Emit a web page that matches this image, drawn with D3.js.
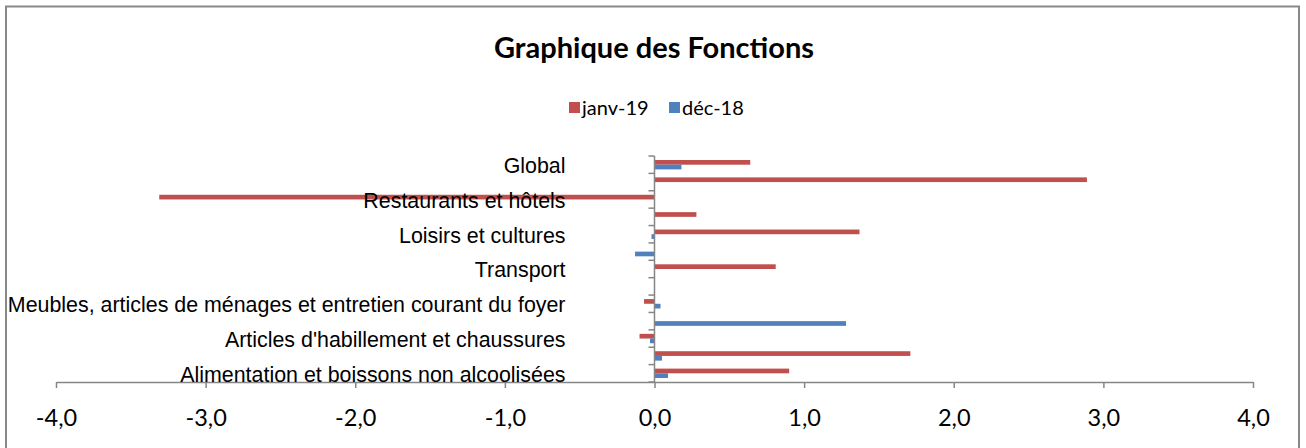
<!DOCTYPE html>
<html>
<head>
<meta charset="utf-8">
<script src="https://cdn.jsdelivr.net/npm/d3@7"></script>
<style>
	body { margin: 0; background: #fff; }
	svg { display: block; }
	.cat-axis text { font-family: "Liberation Sans", Arial, sans-serif; font-size: 21.4px; fill: #000; }
	.x-axis text { font-family: Lato, "Open Sans", sans-serif; font-size: 23.5px; fill: #000; }
</style>
</head>
<body>
<div id="chart"></div>
<script>
// categories, bottom to top (Excel order)
const categories = [
	"Alimentation et boissons non alcoolisées",
	"Boissons alcoolisées et tabac",
	"Articles d'habillement et chaussures",
	"Logement, eau, gaz, électricité et autres combustibles",
	"Meubles, articles de ménages et entretien courant du foyer",
	"Santé",
	"Transport",
	"Communication",
	"Loisirs et cultures",
	"Enseignement",
	"Restaurants et hôtels",
	"Biens et services divers",
	"Global"
];
const seriesNames = ["janv-19", "déc-18"];
const janv19 = [0.90, 1.71, -0.10, 0.00, -0.07, 0.00, 0.81, 0.00, 1.37, 0.28, -3.31, 2.89, 0.64];
const dec18 = [0.09, 0.05, -0.03, 1.28, 0.04, 0.00, 0.00, -0.13, -0.02, 0.00, 0.00, 0.00, 0.18];
const xTicks = [-4, -3, -2, -1, 0, 1, 2, 3, 4];
const colors = { "janv-19": "#C0504D", "déc-18": "#4F81BD" };

const W = 1306, H = 448;
const svg = d3.select("#chart").append("svg")
	.attr("width", W)
	.attr("height", H);

// chart frame
svg.append("rect")
	.attr("x", 6).attr("y", 6.5)
	.attr("width", 1293).attr("height", 460)
	.attr("fill", "none")
	.attr("stroke", "#898989")
	.attr("stroke-width", 2);

// title
svg.append("text")
	.attr("x", 654).attr("y", 58)
	.attr("text-anchor", "middle")
	.style("font-family", "Lato, 'Open Sans', sans-serif")
	.style("font-weight", "bold")
	.style("font-size", "29px")
	.text("Graphique des Fonctions");

// legend
const legend = svg.append("g").attr("transform", "translate(569, 108)");
const legendX = [0, 100];
seriesNames.forEach((s, i) => {
	const g = legend.append("g").attr("transform", `translate(${legendX[i]}, 0)`);
	g.append("rect")
		.attr("x", 0).attr("y", -6)
		.attr("width", 11).attr("height", 11)
		.attr("fill", colors[s]);
	g.append("text")
		.attr("x", 13).attr("y", 0)
		.attr("dy", "0.35em")
		.style("font-family", "Lato, 'Open Sans', sans-serif")
		.style("font-size", "20px")
		.text(s);
});

// scales
const x = d3.scaleLinear().domain([-4, 4]).range([56, 1253]);
const y = d3.scaleBand().domain(categories).range([382, 156]);
const ySub = d3.scaleBand().domain(seriesNames).range([0, y.bandwidth()]).paddingOuter(0.85);

const rows = categories.map((c, i) => ({ cat: c, "janv-19": janv19[i], "déc-18": dec18[i] }));

// bars
const groups = svg.append("g").selectAll("g")
	.data(rows)
	.join("g")
	.attr("transform", d => `translate(0, ${y(d.cat)})`);

groups.selectAll("rect")
	.data(d => seriesNames.map(s => ({ s, v: d[s] })))
	.join("rect")
	.attr("x", d => x(Math.min(0, d.v)))
	.attr("y", d => ySub(d.s))
	.attr("width", d => Math.abs(x(d.v) - x(0)))
	.attr("height", ySub.bandwidth())
	.attr("fill", d => colors[d.s]);

// x axis
const xAxis = svg.append("g")
	.attr("class", "axis x-axis")
	.attr("transform", `translate(0, ${y.range()[0]})`)
	.call(d3.axisBottom(x)
		.tickValues(xTicks)
		.tickSize(6)
		.tickSizeOuter(0)
		.tickPadding(21)
		.tickFormat(d => d3.format(".1f")(d).replace(".", ",").replace("−", "-")));
xAxis.select(".domain").attr("stroke", "#868686").attr("stroke-width", 1.5);
xAxis.selectAll(".tick line").attr("stroke", "#868686").attr("stroke-width", 1.5);

// y axis line + ticks at category boundaries
const yAxis = svg.append("g")
	.attr("class", "axis y-axis")
	.attr("transform", `translate(${x(0)}, 0)`);
yAxis.append("line")
	.attr("y1", y.range()[1]).attr("y2", y.range()[0])
	.attr("stroke", "#868686").attr("stroke-width", 1.5);
const boundaries = categories.map(c => y(c)).concat([y(categories[0]) + y.bandwidth()]);
yAxis.selectAll(".btick")
	.data(boundaries)
	.join("line")
	.attr("class", "btick")
	.attr("x1", -6).attr("x2", 0)
	.attr("y1", d => d).attr("y2", d => d)
	.attr("stroke", "#868686").attr("stroke-width", 1.5);

// category labels (Excel skips every other one)
const catAxis = svg.append("g")
	.attr("class", "cat-axis")
	.attr("transform", `translate(${x(0)}, 1.5)`)
	.call(d3.axisLeft(y)
		.tickSize(0)
		.tickPadding(89)
		.tickFormat((d, i) => i % 2 === 0 ? d : ""));
catAxis.select(".domain").remove();
</script>
</body>
</html>
